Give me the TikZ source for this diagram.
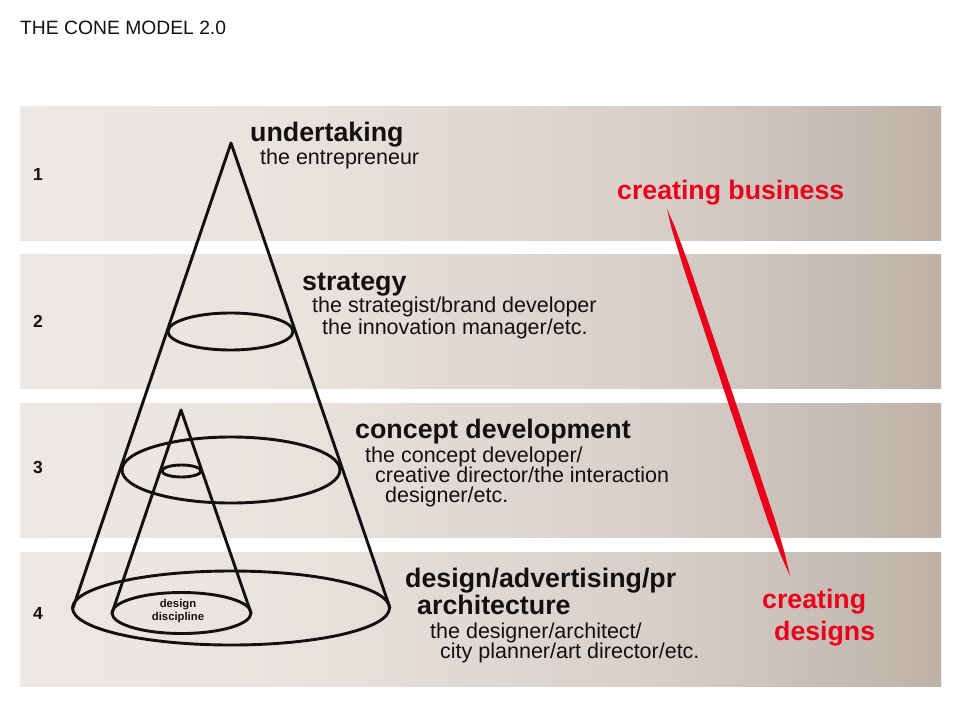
\documentclass[tikz,border=0pt]{standalone}
\usepackage{fontspec}
\setmainfont{Liberation Sans}
\usetikzlibrary{calc}

\definecolor{bandA}{HTML}{EDE8E4}
\definecolor{bandB}{HTML}{E9E3DE}
\definecolor{bandC}{HTML}{D7CEC7}
\definecolor{bandD}{HTML}{BEB2A8}
\definecolor{ink}{HTML}{111111}
\definecolor{signal}{HTML}{E8001C}

% warm grey band, lighter on the left and darkening to the right
\pgfdeclarehorizontalshading{bandshade}{100bp}{%
  color(0bp)=(bandA); color(25bp)=(bandA); color(40bp)=(bandB);
  color(60bp)=(bandC); color(75bp)=(bandD); color(100bp)=(bandD)}

\tikzset{
  band/.style={shading=bandshade, draw=none},
  cone/.style={draw=ink, line width=2.9pt, line join=round},
  levelno/.style={anchor=base west, inner sep=0pt, text=ink, font=\bfseries\fontsize{17.5}{17}\selectfont},
  levelhead/.style={anchor=base west, inner sep=0pt, text=ink, font=\bfseries\fontsize{26.8}{27}\selectfont},
  rolebody/.style={anchor=base west, inner sep=0pt, text=ink, font=\fontsize{21.5}{22}\selectfont},
  redlabel/.style={anchor=base west, inner sep=0pt, text=signal, font=\bfseries\fontsize{26.7}{27}\selectfont},
}

\begin{document}
\begin{tikzpicture}[x=1pt, y=-1pt]
\useasboundingbox[fill=white] (0,0) rectangle (960,720);

% title
\node[anchor=base west, inner sep=0pt, text=ink, font=\fontsize{19.3}{20}\selectfont] (title) at (20,34) {THE CONE MODEL 2.0};

% the four level bands
\path[band] (20,106) rectangle (941,240);
\path[band] (20,254) rectangle (941,388);
\path[band] (20,403) rectangle (941,537);
\path[band] (20,552) rectangle (941,686);

% level numbers
\node[levelno] (n1) at (33,180) {1};
\node[levelno] (n2) at (33,327) {2};
\node[levelno] (n3) at (33,473) {3};
\node[levelno] (n4) at (33,619) {4};

% outer cone
\coordinate (apex) at (231,143);
\draw[cone] (73,608) -- (apex) -- (390,608);
\draw[cone] (231,608) ellipse [x radius=158.5, y radius=37];
\draw[cone] (230.5,331.5) ellipse [x radius=62.5, y radius=18.5];
\draw[cone] (231,470) ellipse [x radius=109, y radius=33];

% inner cone: the design discipline
\coordinate (iapex) at (181,410);
\draw[cone] (112,613) -- (iapex) -- (251,613);
\draw[cone] (181.5,613) ellipse [x radius=69.5, y radius=20.5];
\draw[cone] (181.5,471) ellipse [x radius=19.5, y radius=6];
\node[align=center, inner sep=0pt, text=ink, font=\bfseries\fontsize{11.3}{13}\selectfont] (disc) at (178,611.5) {design\\discipline};

% level 1
\node[levelhead] (h1) at (250,141) {undertaking};
\node[rolebody] (b1) at (260,164) {the entrepreneur};

% level 2
\node[levelhead] (h2) at (302,290) {strategy};
\node[rolebody] (b2a) at (312,312) {the strategist/brand developer};
\node[rolebody] (b2b) at (322,334) {the innovation manager/etc.};

% level 3
\node[levelhead] (h3) at (355,438) {concept development};
\node[rolebody] (b3a) at (365,462) {the concept developer/};
\node[rolebody] (b3b) at (375,482) {creative director/the interaction};
\node[rolebody] (b3c) at (385,502) {designer/etc.};

% level 4
\node[levelhead] (h4a) at (405,587) {design/advertising/pr};
\node[levelhead] (h4b) at (417,614) {architecture};
\node[rolebody] (b4a) at (430,638) {the designer/architect/};
\node[rolebody] (b4b) at (440,658) {city planner/art director/etc.};

% the business-to-design axis
\node[redlabel] (biz) at (617,199) {creating business};
\node[redlabel] (des1) at (762,608) {creating};
\node[redlabel] (des2) at (774,640) {designs};

\coordinate (rt) at (667,209);
\coordinate (rb) at (790,576);
\fill[signal]
  (rt)
  -- ($(rt)!0.05!(rb)!1.8pt!90:(rb)$)
  -- ($(rt)!0.15!(rb)!3.0pt!90:(rb)$)
  -- ($(rt)!0.50!(rb)!3.6pt!90:(rb)$)
  -- ($(rt)!0.85!(rb)!3.6pt!90:(rb)$)
  -- ($(rt)!0.94!(rb)!2.2pt!90:(rb)$)
  -- (rb)
  -- ($(rt)!0.94!(rb)!2.2pt!-90:(rb)$)
  -- ($(rt)!0.85!(rb)!3.6pt!-90:(rb)$)
  -- ($(rt)!0.50!(rb)!3.6pt!-90:(rb)$)
  -- ($(rt)!0.15!(rb)!3.0pt!-90:(rb)$)
  -- ($(rt)!0.05!(rb)!1.8pt!-90:(rb)$)
  -- cycle;
\end{tikzpicture}
\end{document}
